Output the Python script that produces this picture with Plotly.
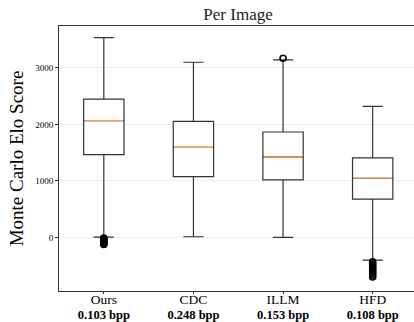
import plotly.graph_objects as go

methods = ["Ours", "CDC", "ILLM", "HFD"]
bpp = ["0.103 bpp", "0.248 bpp", "0.153 bpp", "0.108 bpp"]
q1 = [1465, 1076, 1018, 676]
median = [2065, 1594, 1424, 1047]
q3 = [2447, 2053, 1865, 1406]
lower_whisker = [5, 12, 0, -400]
upper_whisker = [3535, 3100, 3141, 2318]
outliers = [
    [-10, -25, -40, -55, -70, -85, -100, -115, -125],
    [],
    [3170],
    [-430, -460, -490, -520, -550, -580, -610, -640, -670, -700],
]
yticks = [0, 1000, 2000, 3000]

positions = [1, 2, 3, 4]
box_w = 0.45
font_family = "Liberation Serif"

fig = go.Figure()
for i, m in enumerate(methods):
    fig.add_trace(go.Box(
        x=[positions[i]], q1=[q1[i]], median=[median[i]], q3=[q3[i]],
        lowerfence=[lower_whisker[i]], upperfence=[upper_whisker[i]],
        width=box_w, whiskerwidth=0.5, fillcolor="white",
        line=dict(color="#333333", width=1.2), boxpoints=False,
        name=m, showlegend=False, hoverinfo="skip"))

# orange medians
mx, my = [], []
for i in range(len(methods)):
    mx += [positions[i] - box_w / 2 + 0.01, positions[i] + box_w / 2 - 0.01, None]
    my += [median[i], median[i], None]
fig.add_trace(go.Scatter(x=mx, y=my, mode="lines",
                         line=dict(color="#ff9a45", width=1.2),
                         showlegend=False, hoverinfo="skip"))

# outliers
ox, oy = [], []
for i in range(len(methods)):
    for v in outliers[i]:
        ox.append(positions[i])
        oy.append(v)
fig.add_trace(go.Scatter(x=ox, y=oy, mode="markers",
                         marker=dict(symbol="circle-open", size=6, color="black",
                                     line=dict(width=1.6, color="black")),
                         showlegend=False, hoverinfo="skip"))

ticktext = [f"<span style='font-size:13.5px'>{m}</span><br>"
            f"<span style='font-size:12.5px'><b>{b}</b></span>"
            for m, b in zip(methods, bpp)]

fig.update_layout(
    width=414, height=322,
    margin=dict(l=59, r=0, t=26, b=31, pad=0),
    paper_bgcolor="white", plot_bgcolor="white",
    font=dict(family=font_family, color="black"),
    title=dict(text="Per Image", x=0.575, xanchor="center", y=0.955, yanchor="middle",
               font=dict(size=17, family=font_family, color="#222")),
)
fig.update_xaxes(
    automargin=False,
    range=[0.5, 4.461], tickvals=positions, ticktext=ticktext,
    tickfont=dict(size=11.5, family=font_family, color="black"),
    ticklabelstandoff=-4,
    showgrid=False, zeroline=False,
    showline=True, linecolor="#333", linewidth=1, mirror=True,
    ticks="outside", ticklen=2, tickcolor="#333",
)
fig.update_yaxes(
    automargin=False,
    range=[-948, 3741], tickvals=yticks, ticktext=[str(v) for v in yticks],
    tickfont=dict(size=9, family=font_family, color="black"),
    showgrid=True, gridcolor="#ececec", gridwidth=1, zeroline=False,
    showline=True, linecolor="#333", linewidth=1, mirror=False,
    ticks="outside", ticklen=3, tickcolor="#333",
    title=dict(text="Monte Carlo Elo Score", standoff=6,
               font=dict(size=19, family=font_family, color="black")),
)

fig.write_html("out.html", config={"displayModeBar": False},
               post_script="document.body.style.margin='0';document.body.style.overflow='hidden';")
